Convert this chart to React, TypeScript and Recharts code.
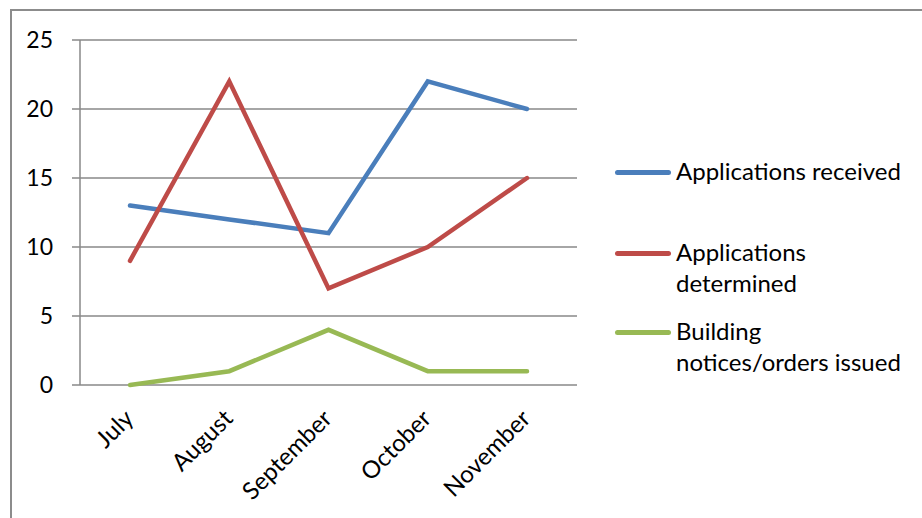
import { LineChart, Line, XAxis, YAxis, CartesianGrid } from "recharts";

const months = ["July", "August", "September", "October", "November"];
const received = [13, 12, 11, 22, 20];
const determined = [9, 22, 7, 10, 15];
const buildingNotices = [0, 1, 4, 1, 1];
const yTicks = [0, 5, 10, 15, 20, 25];
const boundaryTicks = [0, 1, 2, 3, 4, 5];

const series = [
  { key: "received", lines: ["Applications received"], color: "#4a7ebb" },
  { key: "determined", lines: ["Applications", "determined"], color: "#be4b48" },
  { key: "building", lines: ["Building", "notices/orders issued"], color: "#98b954" },
];

const data = months.map((month, i) => ({
  month,
  received: received[i],
  determined: determined[i],
  building: buildingNotices[i],
}));

const FONT = "Lato, 'Open Sans', sans-serif";
const GRID = "#888888";

function MonthTick(props: any) {
  const { x, y, payload } = props;
  return (
    <text
      x={x + 5}
      y={y + 27}
      transform={`rotate(-45, ${x + 5}, ${y + 27})`}
      textAnchor="end"
      fontFamily={FONT}
      fontSize={24}
      fill="#000"
    >
      {payload.value}
    </text>
  );
}

function SideLegend() {
  const tops = [155, 236, 315];
  return (
    <div style={{ position: "absolute", left: 615, top: 0, fontFamily: FONT, fontSize: 24, color: "#000" }}>
      {series.map((s, i) => (
        <div key={s.key} style={{ position: "absolute", top: tops[i], display: "flex", alignItems: "flex-start", whiteSpace: "nowrap" }}>
          <div style={{ width: 56, height: 5, borderRadius: 3, background: s.color, marginTop: 15, marginRight: 5 }} />
          <div style={{ lineHeight: "31px" }}>
            {s.lines.map((l) => (
              <div key={l}>{l}</div>
            ))}
          </div>
        </div>
      ))}
    </div>
  );
}

export default function App() {
  return (
    <div style={{ position: "absolute", left: 0, top: 0, width: 922, height: 518, overflow: "hidden", background: "#fff" }}>
      <div style={{ position: "absolute", left: 10, top: 9, width: 940, height: 540, border: "2px solid #8c8c8c" }} />
      <LineChart width={922} height={518} data={data} margin={{ top: 40, right: 345, bottom: 0, left: 0 }}>
        <CartesianGrid vertical={false} stroke={GRID} strokeWidth={1.5} />
        {/* tick marks between categories */}
        <XAxis
          xAxisId="frame"
          type="number"
          domain={[0, 5]}
          ticks={boundaryTicks}
          tick={false}
          height={0}
          axisLine={{ stroke: GRID, strokeWidth: 1.5 }}
          tickLine={{ stroke: GRID, strokeWidth: 1.5 }}
          tickSize={8}
        />
        <XAxis
          dataKey="month"
          height={133}
          padding={{ left: 50, right: 50 }}
          axisLine={false}
          tickLine={false}
          interval={0}
          tick={<MonthTick />}
        />
        <YAxis
          width={80}
          domain={[0, 25]}
          ticks={yTicks}
          interval={0}
          axisLine={{ stroke: GRID, strokeWidth: 1.5 }}
          tickLine={{ stroke: GRID, strokeWidth: 1.5 }}
          tickSize={8}
          tickMargin={19}
          tick={{ fontFamily: FONT, fontSize: 23, fill: "#000" }}
        />
        {series.map((s) => (
          <Line
            key={s.key}
            dataKey={s.key}
            stroke={s.color}
            strokeWidth={4.5}
            strokeLinejoin="miter"
            strokeLinecap="round"
            dot={false}
            isAnimationActive={false}
          />
        ))}
      </LineChart>
      <SideLegend />
    </div>
  );
}
